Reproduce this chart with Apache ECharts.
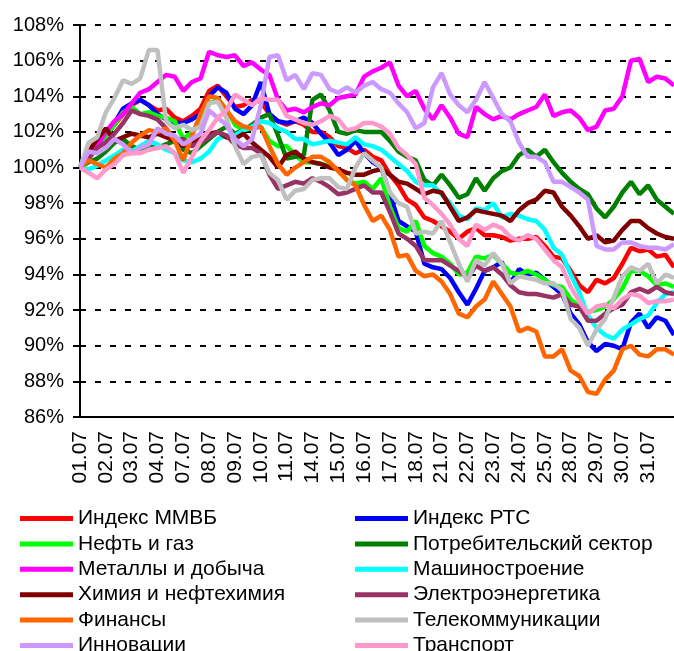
<!DOCTYPE html>
<html>
<head>
<meta charset="utf-8">
<script src="https://cdn.jsdelivr.net/npm/echarts@6/dist/echarts.min.js"></script>
<style>
html, body { margin: 0; padding: 0; background: #fff; }
#chart { width: 674px; height: 651px; }
</style>
</head>
<body>
<div id="chart"></div>
<script>
// торговые дни июля, три замера на день
var days = ['01.07', '02.07', '03.07', '04.07', '07.07', '08.07', '09.07', '10.07', '11.07', '14.07', '15.07', '16.07',
    '17.07', '18.07', '21.07', '22.07', '23.07', '24.07', '25.07', '28.07', '29.07', '30.07', '31.07'];
var pointsPerDay = 3;

// значения индексов, % к 01.07
var mmvb = [100, 100.8, 101.4, 101.8, 102.4, 103.0, 103.5, 103.8, 103.5, 103.2, 103.3, 102.8,
    102.6, 102.9, 103.3, 104.3, 104.6, 104.0, 103.4, 103.5, 103.8, 103.7, 103.0, 102.6,
    102.4, 102.6, 102.4, 102.0, 102.0, 101.7, 101.2, 101.1, 100.8, 101.0, 100.6,
    100.4, 99.6, 99.0, 98.2, 97.9, 97.2, 97.0, 96.7, 96.4, 96.0, 96.4, 96.6,
    96.2, 96.2, 96.1, 95.9, 96.0, 96.0, 96.1, 95.6, 95.0, 94.9, 94.2,
    93.4, 93.0, 93.7, 93.5, 93.8, 94.6, 95.5, 95.3, 95.4, 95.0, 95.1, 94.4];
var rts = [100, 100.7, 101.2, 101.8, 102.5, 103.3, 103.6, 103.8, 103.5, 103.0, 102.7, 102.5,
    102.5, 102.7, 103.0, 104.0, 104.5, 104.2, 103.3, 103.0, 103.5, 104.8, 103.0, 102.6,
    102.5, 102.6, 102.8, 102.5, 101.9, 101.4, 100.7, 101.0, 101.5, 100.8, 100.3,
    100.0, 98.5, 97.0, 96.7, 96.4, 94.6, 94.4, 94.3, 93.8, 93.0, 92.3, 93.2,
    94.2, 94.4, 94.7, 93.5, 94.3, 94.0, 94.1, 93.7, 93.3, 92.9, 91.8,
    91.2, 90.2, 89.7, 90.1, 90.0, 89.8, 91.3, 91.8, 91.0, 91.6, 91.4, 90.6];
var oilGas = [100, 100.6, 101.1, 101.8, 102.4, 103.1, 103.4, 103.0, 103.1, 102.9, 102.8, 102.6,
    101.6, 102.0, 102.4, 103.6, 103.8, 103.3, 102.4, 102.1, 102.2, 102.3, 101.5, 101.2,
    101.2, 100.7, 100.3, 100.3, 100.2, 100.1, 99.9, 99.3, 99.1, 99.2, 98.8,
    99.4, 97.8, 96.6, 96.4, 97.0, 95.6, 95.2, 95.0, 94.6, 94.0, 94.1, 95.0,
    94.9, 95.1, 94.6, 94.1, 94.0, 94.2, 94.0, 93.7, 93.4, 93.3, 92.6,
    92.2, 91.9, 92.0, 92.2, 92.6, 93.2, 94.2, 94.2, 93.9, 93.4, 93.5, 93.3];
var consumer = [100, 100.3, 100.5, 100.9, 101.4, 101.6, 101.2, 101.0, 101.2, 101.1, 101.3, 101.5,
    101.0, 100.8, 101.2, 101.6, 102.0, 102.3, 101.9, 102.1, 102.4, 102.8, 103.0, 101.8,
    100.5, 100.6, 100.7, 103.8, 104.1, 103.2, 102.0, 101.9, 102.1, 102.0, 102.0,
    102.0, 101.5, 100.9, 100.6, 100.4, 99.3, 99.0, 99.6, 99.0, 98.3, 98.5, 99.4,
    98.7, 99.4, 99.8, 100.0, 100.7, 101.0, 100.6, 101.0, 100.3, 99.7, 99.2,
    98.8, 98.5, 97.7, 97.2, 97.8, 98.6, 99.2, 98.5, 99.0, 98.2, 97.8, 97.4];
var metals = [100, 100.6, 101.2, 102.0, 102.6, 103.0, 103.6, 104.2, 104.4, 104.8, 105.2, 105.1,
    104.3, 104.8, 105.0, 106.5, 106.3, 106.2, 106.3, 105.7, 105.9, 105.5, 105.2, 103.8,
    103.2, 103.3, 103.1, 103.4, 103.6, 103.5, 103.9, 104.0, 104.1, 105.1, 105.4,
    105.6, 105.9, 104.6, 104.0, 104.3, 103.3, 102.7, 103.5, 102.8, 101.9, 101.7, 103.4,
    103.0, 102.7, 102.9, 102.7, 103.0, 103.2, 103.4, 104.1, 102.9, 103.1, 103.2,
    102.8, 102.1, 102.3, 103.2, 103.3, 104.0, 106.0, 106.1, 104.8, 105.1, 105.0, 104.6];
var machinery = [100, 99.9, 100.1, 100.4, 100.7, 101.0, 100.9, 101.2, 101.5, 101.3, 101.0, 100.8,
    100.4, 100.3, 100.5, 100.9, 101.6, 101.8, 101.8, 102.1, 102.3, 102.6, 102.5, 102.2,
    102.0, 101.6, 101.6, 101.3, 101.4, 101.5, 101.4, 101.3, 101.7, 101.3, 101.2,
    101.0, 100.6, 100.2, 99.8, 99.2, 99.0, 99.0, 98.5, 98.0, 97.3, 97.1, 97.7,
    97.6, 98.0, 97.2, 97.4, 97.3, 97.1, 97.0, 96.5, 95.5, 95.1, 94.0,
    93.0, 91.7, 91.0, 90.6, 90.4, 90.9, 91.2, 91.5, 91.7, 92.4, 92.9, 93.0];
var chemistry = [100, 100.9, 101.6, 102.2, 101.5, 101.7, 101.9, 101.8, 101.7, 101.9, 101.7, 101.5,
    101.2, 101.4, 101.6, 101.9, 102.0, 101.7, 101.6, 101.9, 101.4, 101.0, 100.6, 100.0,
    100.7, 100.9, 100.5, 100.3, 100.2, 100.0, 99.9, 99.7, 99.6, 99.6, 99.8,
    99.9, 99.6, 99.2, 99.1, 98.8, 98.5, 98.7, 98.6, 97.8, 97.0, 97.2, 97.6,
    97.5, 97.4, 97.3, 97.0, 97.6, 98.0, 98.2, 98.7, 98.6, 97.8, 97.3,
    96.7, 96.0, 96.2, 95.8, 95.9, 96.5, 97.0, 97.0, 96.6, 96.3, 96.1, 96.0];
var electro = [100, 100.5, 101.1, 101.4, 101.9, 102.5, 103.2, 103.0, 102.9, 102.7, 102.2, 101.5,
    101.6, 101.2, 101.4, 101.7, 102.0, 101.8, 101.3, 101.1, 101.1, 100.8, 99.6, 98.8,
    99.0, 99.2, 99.1, 99.4, 99.2, 98.9, 98.5, 98.6, 98.8, 99.0, 98.6,
    98.6, 97.5, 96.3, 96.0, 95.6, 94.8, 94.8, 94.8, 94.5, 94.2, 93.8, 94.5,
    94.2, 94.4, 94.0, 93.4, 93.0, 92.9, 92.9, 92.8, 92.7, 92.9, 92.3,
    92.2, 91.4, 91.4, 91.8, 92.1, 92.3, 93.0, 93.2, 93.0, 93.3, 93.0, 92.9];
var finance = [100, 100.4, 100.2, 100.0, 100.5, 100.8, 101.4, 101.8, 102.1, 102.0, 102.2, 101.5,
    100.4, 101.8, 103.0, 104.0, 103.9, 103.2, 102.6, 102.3, 102.2, 102.3, 101.2, 100.2,
    99.6, 100.0, 100.3, 100.6, 100.6, 100.3, 99.8, 99.3, 99.0, 97.9, 97.0,
    97.3, 96.5, 95.0, 95.1, 94.2, 93.9, 94.0, 93.6, 92.9, 91.8, 91.6, 92.2,
    92.6, 93.6, 92.9, 92.2, 90.8, 91.0, 90.8, 89.4, 89.4, 89.8, 88.6,
    88.3, 87.4, 87.3, 88.1, 88.6, 89.8, 90.0, 89.5, 89.4, 89.8, 89.8, 89.5];
var telecom = [100, 101.4, 101.7, 103.1, 103.9, 104.9, 104.7, 105.0, 106.6, 106.6, 102.6, 102.2,
    102.4, 102.1, 102.3, 103.6, 103.7, 102.8, 101.2, 100.2, 100.6, 100.7, 99.7, 99.3,
    98.2, 98.7, 98.8, 99.3, 99.4, 99.4, 98.9, 98.8, 100.0, 100.8, 100.4,
    100.0, 98.6, 98.0, 97.8, 96.3, 96.4, 96.3, 97.0, 95.8, 94.6, 93.6, 94.8,
    94.5, 95.2, 94.6, 93.5, 93.9, 93.8, 93.7, 93.5, 93.5, 93.1, 91.5,
    91.0, 90.0, 90.9, 91.5, 92.7, 93.9, 94.4, 94.2, 94.6, 93.5, 94.0, 93.8];
var innovation = [100, 100.9, 100.8, 101.1, 101.6, 101.3, 100.8, 101.1, 101.3, 102.2, 101.9, 101.8,
    101.3, 101.6, 101.9, 103.2, 102.8, 102.4, 101.6, 101.2, 101.6, 103.5, 106.2, 106.3,
    104.9, 105.2, 104.4, 105.3, 105.2, 104.4, 104.2, 104.5, 104.2, 104.6, 104.8,
    104.4, 104.2, 103.6, 103.1, 102.2, 102.5, 104.5, 105.3, 104.1, 103.5, 103.1, 103.8,
    104.8, 103.9, 103.0, 102.6, 101.4, 100.6, 100.6, 100.3, 99.2, 99.2, 98.9,
    98.6, 98.2, 95.6, 95.4, 95.4, 95.8, 95.8, 95.6, 95.5, 95.5, 95.4, 95.7];
var transport = [100, 99.7, 99.4, 99.9, 100.2, 100.7, 100.8, 100.8, 101.0, 101.1, 101.2, 100.8,
    99.7, 100.6, 101.5, 102.1, 102.8, 103.2, 104.1, 103.8, 103.5, 103.9, 103.8, 103.8,
    102.9, 102.7, 102.5, 102.4, 102.6, 102.9, 102.7, 102.1, 102.2, 102.5, 102.5,
    102.3, 101.9, 101.1, 100.7, 100.2, 98.3, 97.9, 97.4, 96.8, 96.0, 95.6, 96.8,
    96.5, 96.8, 96.6, 96.1, 95.9, 96.2, 96.0, 95.4, 94.8, 94.4, 93.3,
    92.5, 91.8, 92.2, 92.3, 92.1, 92.6, 92.9, 92.8, 92.4, 92.5, 92.5, 92.6];

var names = ['Индекс ММВБ', 'Индекс РТС', 'Нефть и газ', 'Потребительский сектор', 'Металлы и добыча', 'Машиностроение',
    'Химия и нефтехимия', 'Электроэнергетика', 'Финансы', 'Телекоммуникации', 'Инновации', 'Транспорт'];
var values = [mmvb, rts, oilGas, consumer, metals, machinery, chemistry, electro, finance, telecom, innovation, transport];
var colors = ['#FF0000', '#0000FF', '#00FF00', '#008000', '#FF00FF', '#00FFFF',
    '#800000', '#993366', '#FF6600', '#C0C0C0', '#CC99FF', '#FF99CC'];

var categories = [];
for (var i = 0; i < mmvb.length; i++) {
    categories.push(String(i));
}

var font = "'Liberation Sans', Arial, sans-serif";

var series = [];
for (var s = 0; s < names.length; s++) {
    series.push({
        name: names[s],
        type: 'line',
        data: values[s],
        showSymbol: false,
        lineStyle: { width: 4.5, color: colors[s] },
        itemStyle: { color: colors[s] }
    });
}

// легенда в две колонки, нижняя строка частично обрезана краем
function legendColumn(left, items) {
    return {
        data: items,
        left: left,
        top: 508,
        height: 200,
        orient: 'vertical',
        padding: 0,
        itemGap: 4.4,
        itemWidth: 53,
        itemHeight: 5,
        icon: 'rect',
        selectedMode: false,
        itemStyle: { borderWidth: 0 },
        textStyle: { fontFamily: font, fontSize: 21, color: '#000', lineHeight: 20.5 }
    };
}
var leftItems = [], rightItems = [];
names.forEach(function (n, k) {
    (k % 2 === 0 ? leftItems : rightItems).push(n);
});

var chart = echarts.init(document.getElementById('chart'));
chart.setOption({
    animation: false,
    color: colors,
    grid: { left: 80, top: 25, width: 595, height: 392 },
    legend: [legendColumn(20, leftItems), legendColumn(355, rightItems)],
    xAxis: {
        type: 'category',
        data: categories,
        boundaryGap: false,
        axisLine: { lineStyle: { color: '#000', width: 2 } },
        axisTick: { show: false },
        axisLabel: {
            rotate: 90,
            margin: 14,
            interval: function (idx) { return idx % pointsPerDay === 0; },
            formatter: function (v, idx) { return days[idx / pointsPerDay] || ''; },
            fontFamily: font,
            fontSize: 21,
            color: '#000'
        },
        splitLine: { show: false }
    },
    yAxis: {
        type: 'value',
        min: 86,
        max: 108,
        interval: 2,
        axisLine: { show: true, lineStyle: { color: '#000', width: 2 } },
        axisTick: { show: true, inside: false, length: 7, lineStyle: { color: '#000', width: 2 } },
        axisLabel: {
            formatter: '{value}%',
            margin: 16,
            fontFamily: font,
            fontSize: 20,
            color: '#000'
        },
        splitLine: { show: true, lineStyle: { color: '#000', width: 2, type: [6, 9] } }
    },
    series: series
});
</script>
</body>
</html>
